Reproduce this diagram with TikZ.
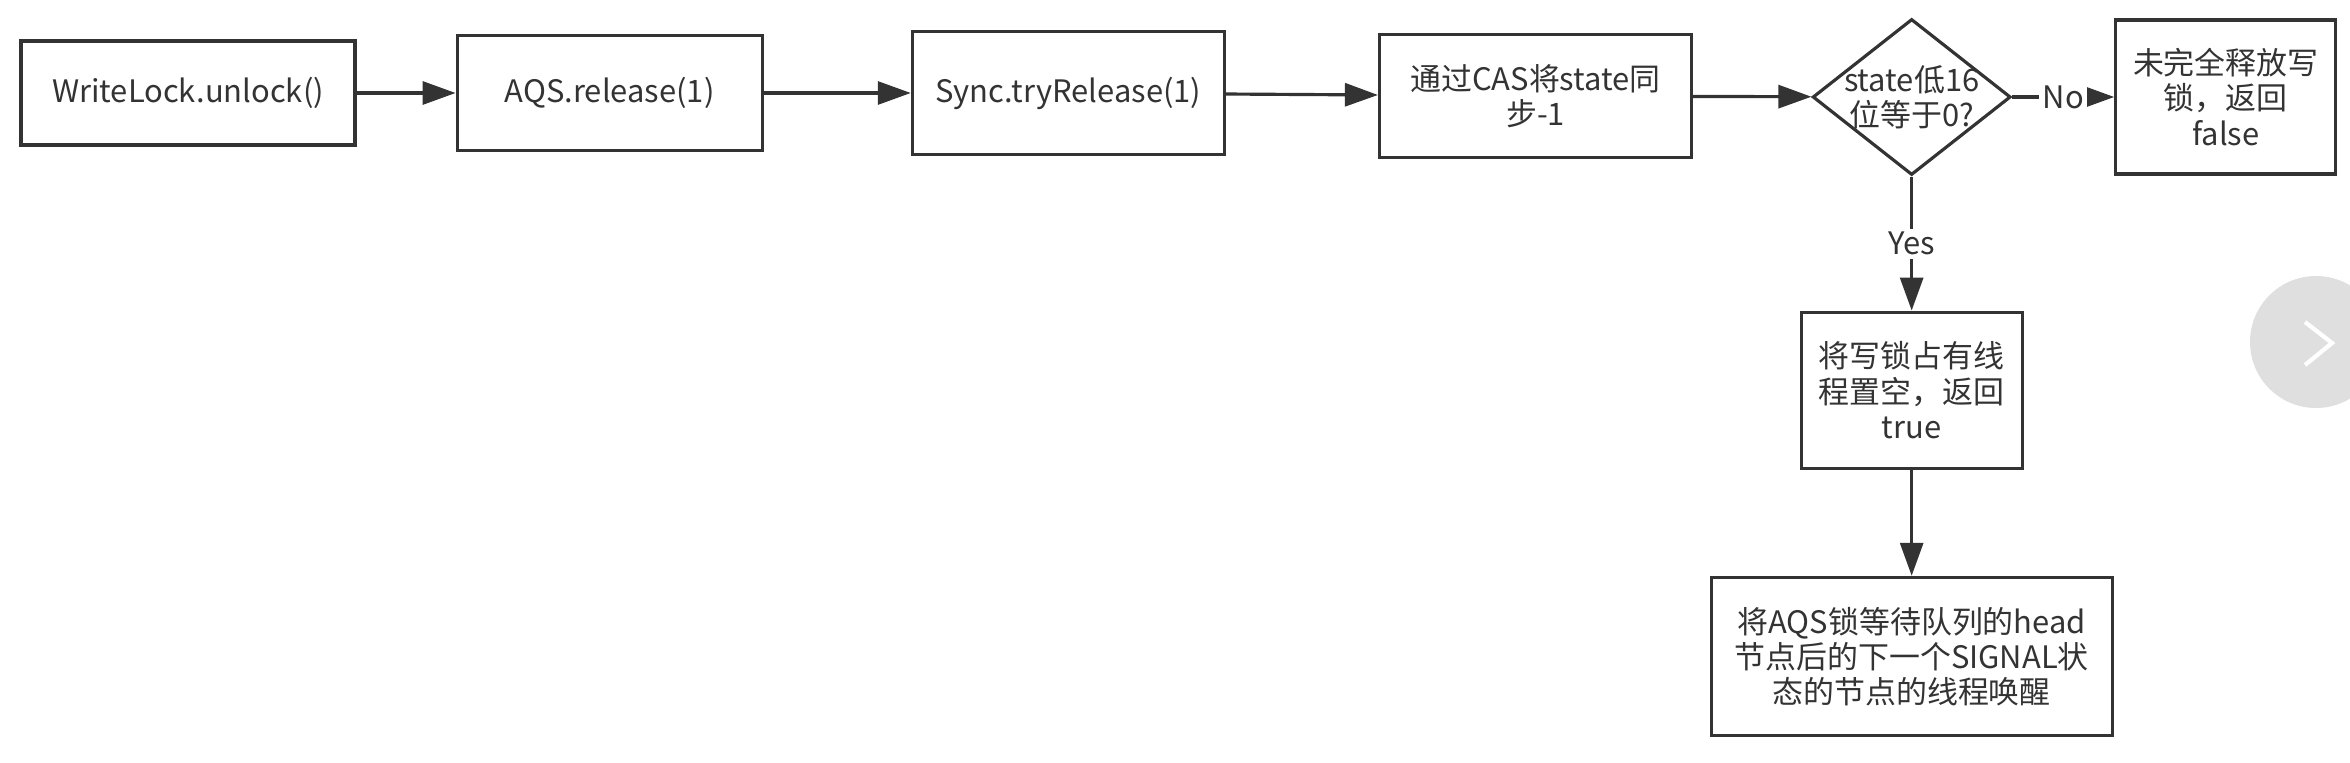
\documentclass[tikz,border=0pt]{standalone}
\usepackage{fontspec}
\setmainfont{Noto Sans CJK SC}
\usepackage{tikz}
\usetikzlibrary{shapes.geometric, arrows.meta, positioning}
\definecolor{ink}{HTML}{333333}

\begin{document}
\begin{tikzpicture}[node distance=1cm, font=\fontsize{8.8}{10}\selectfont, text=ink]
\tikzstyle{box} = [draw=ink, line width=0.9pt, rectangle, align=center, inner sep=0pt]
\tikzstyle{decision} = [draw=ink, line width=0.9pt, diamond, minimum width=1.98cm, minimum height=1.56cm, inner sep=0pt]
\tikzstyle{arrow} = [draw=ink, line width=0.9pt, -{Triangle[length=0.33cm,width=0.23cm]}]
\tikzstyle{tag} = [fill=white, inner sep=1pt]

\useasboundingbox (0,0) rectangle (23.5,-7.62);

% unlock chain
\node[box, minimum width=3.34cm, minimum height=1.04cm] (unlock) at (1.88,-0.93) {WriteLock.unlock()};
\node[box, minimum width=3.05cm, minimum height=1.15cm, right=0.99cm of unlock] (release) {AQS.release(1)};
\node[box, minimum width=3.12cm, minimum height=1.23cm, right=1.47cm of release] (tryrel) {Sync.tryRelease(1)};
\node[box, minimum width=3.12cm, minimum height=1.23cm, right=1.52cm of tryrel, yshift=-0.03cm] (cas) {通过CAS将state同\\步-1};

% state check
\node[decision, right=1.18cm of cas, yshift=-0.01cm, label={[align=center]center:state低16\\位等于0?}] (check) {};
\node[box, minimum width=2.20cm, minimum height=1.54cm, right=1.02cm of check] (fail) {未完全释放写\\锁，返回\\false};
\node[box, minimum width=2.21cm, minimum height=1.56cm, below=1.34cm of check] (clear) {将写锁占有线\\程置空，返回\\true};
\node[box, minimum width=4.01cm, minimum height=1.58cm, below=1.06cm of clear] (wake) {将AQS锁等待队列的head\\节点后的下一个SIGNAL状\\态的节点的线程唤醒};

\draw [arrow] (unlock) -- (release);
\draw [arrow] (release) -- (tryrel);
\draw [arrow] (tryrel) -- (cas);
\draw [arrow] (cas) -- (check);
\draw [arrow] (check) -- node[tag] {No} (fail);
\draw [arrow] (check) -- node[tag] {Yes} (clear);
\draw [arrow] (clear) -- (wake);

% page button
\fill[gray!25] (23.16,-3.42) circle (0.66);
\draw[white, line width=1.2pt] (23.05,-3.22) -- (23.32,-3.43) -- (23.05,-3.65);
\end{tikzpicture}
\end{document}
